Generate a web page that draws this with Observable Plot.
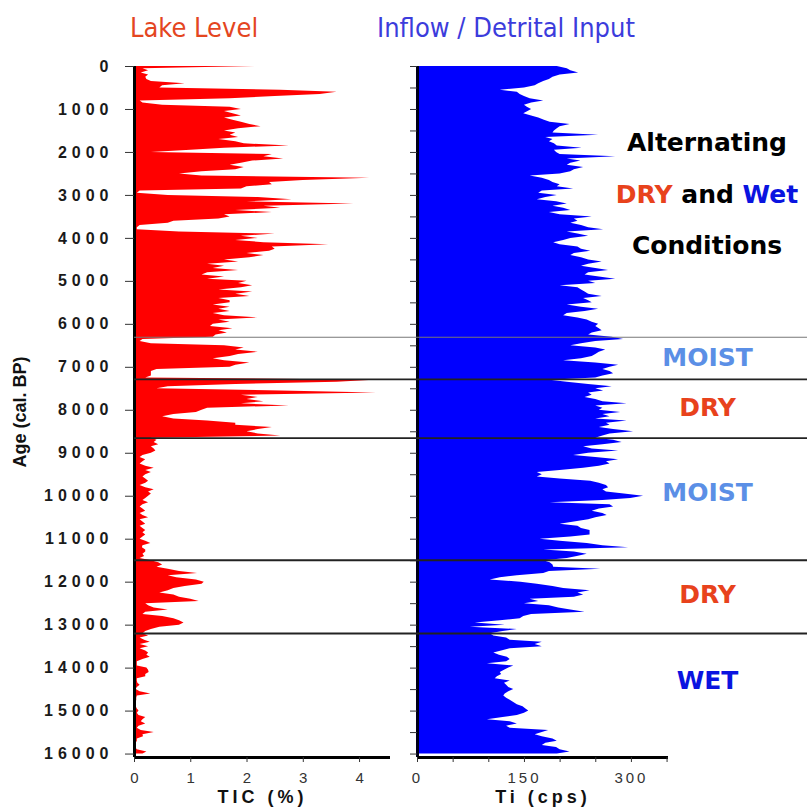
<!DOCTYPE html>
<html>
<head>
<meta charset="utf-8">
<script src="https://cdn.jsdelivr.net/npm/d3@7"></script>
<script src="https://cdn.jsdelivr.net/npm/@observablehq/plot@0.6"></script>
<style>
html, body { margin: 0; padding: 0; background: #fff; }
#wrap { position: relative; width: 807px; height: 807px; overflow: hidden; background: #fff; }
#wrap svg { position: absolute; left: 0; top: 0; background: transparent !important; font-family: "Liberation Sans", Arial, sans-serif; overflow: visible; }
.title { position: absolute; top: 10px; font-family: "DejaVu Sans Condensed", "DejaVu Sans", sans-serif; font-stretch: condensed; font-size: 27px; line-height: 36px; white-space: nowrap; transform: translateX(-50%); }
.note { position: absolute; left: 607px; width: 200px; text-align: center; font-family: "DejaVu Sans", sans-serif; font-weight: bold; font-size: 25px; line-height: 30px; white-space: nowrap; color: #000; }
#left g[aria-label="y-axis tick label"] text { font-weight: bold; font-size: 16px; letter-spacing: 5px; fill: #1a1a1a; }
#left g[aria-label="y-axis label"] text { font-weight: bold; font-size: 18px; fill: #111; }
#left g[aria-label="x-axis tick label"] text, #right g[aria-label="x-axis tick label"] text { font-size: 15px; fill: #333; }
#right g[aria-label="x-axis tick label"] text { letter-spacing: 3px; }
#left g[aria-label="x-axis label"] text, #right g[aria-label="x-axis label"] text { font-weight: bold; font-size: 18px; letter-spacing: 4px; fill: #111; }
g[aria-label="y-axis tick"], g[aria-label="x-axis tick"] { stroke: #333; }
</style>
</head>
<body>
<div id="wrap">
  <div class="title" style="left:194px;color:#e4461f;">Lake Level</div>
  <div class="title" style="left:506px;color:#3c3cdc;">Inflow / Detrital Input</div>
</div>
<script>
// Age axis (cal. BP), one sample every 50 years
const ages = d3.range(0, 16001, 50);

// TIC (%) — Lake Level
const tic = [
  2.15,0.15,0.25,0.12,0.25,0.2,0.22,0.3,0.9,0.5, 0.45,2.6,3.6,3.3,2.5,1.7,0.1,0.15,0.5,1.7,
  1.9,1.6,1.75,1.9,1.6,1.75,1.9,2.05,2.25,1.85, 1.6,1.8,1.7,1.85,1.5,1.8,1.95,2.75,1.6,1.0,
  0.3,2.45,2.3,2.65,2.1,1.9,1.7,1.95,1.8,1.2, 0.8,1.2,4.18,3.0,2.4,2.45,2.0,1.9,0.1,0.05,
  0.6,2.2,2.8,2.0,3.9,2.3,2.6,1.8,2.45,1.6, 1.7,1.5,0.7,0.6,0.1,0.05,0.05,0.8,2.5,1.9,
  2.2,1.8,2.3,3.45,2.45,2.5,2.4,2.0,2.3,2.05, 1.6,1.85,1.3,1.6,1.4,1.85,1.3,1.2,1.6,1.3,
  2.0,1.85,2.1,1.9,1.5,2.1,1.8,2.05,1.5,1.7, 1.7,1.4,1.7,1.5,1.7,1.4,1.6,2.2,1.5,1.7,
  1.4,1.35,1.75,1.5,1.65,1.45,1.4,0.15,0.1,0.3, 1.6,1.95,1.8,2.2,1.85,1.7,1.4,1.6,2.05,1.8,
  1.7,0.4,0.3,0.3,0.3,0.2,4.25,3.6,1.8,0.6, 0.4,2.6,4.3,1.9,2.2,2.0,2.3,1.9,2.75,1.3,
  1.2,1.1,0.7,0.5,0.7,1.3,1.8,1.8,2.45,2.2, 2.0,2.2,2.6,0.3,0.4,0.35,0.43,0.3,0.35,0.38,
  0.3,0.15,0.1,0.2,0.15,0.1,0.2,0.35,0.2,0.3, 0.2,0.15,0.2,0.25,0.2,0.1,0.2,0.35,0.25,0.3,
  0.25,0.2,0.15,0.25,0.15,0.1,0.15,0.2,0.1,0.15, 0.25,0.1,0.15,0.2,0.1,0.15,0.2,0.15,0.2,0.15,
  0.1,0.2,0.29,0.15,0.14,0.2,0.2,0.15,0.18,0.1, 0.3,0.43,0.5,0.4,0.6,0.8,1.12,0.6,0.75,1.1,
  1.24,1.2,0.9,0.7,0.6,0.45,0.7,0.8,1.0,1.15, 0.2,0.25,0.35,0.6,0.2,0.15,0.5,0.7,0.8,0.88,
  0.8,0.45,0.3,0.2,0.15,0.25,0.1,0.18,0.28,0.1, 0.25,0.1,0.2,0.25,0.22,0.28,0.15,0.05,0.05,0.05,
  0.22,0.25,0.26,0.2,0.2,0.05,0.05,0.06,0.1,0.05, 0.03,0.1,0.29,0.05,0.04,0.04,0.03,0.02,0.03,0.05,
  0.08,0.05,0.08,0.2,0.15,0.12,0.2,0.08,0.05,0.12, 0.35,0.15,0.16,0.05,0.05,0.03,0.03,0.02,0.05,0.22,
  0.15
];

// Ti (cps) — Inflow / Detrital Input
const ti = [
  196,210,215,226,200,190,185,177,170,165, 150,116,140,144,150,158,177,160,150,154,
  160,155,149,160,170,178,186,214,200,196, 192,190,254,180,190,185,192,196,231,192,
  195,200,278,210,229,215,210,233,220,215, 200,158,175,185,190,200,196,219,175,170,
  196,180,168,195,210,190,205,215,185,200, 245,220,225,215,230,240,261,210,225,240,
  215,205,191,200,225,230,243,220,215,230, 240,259,240,230,250,268,240,235,255,278,
  240,250,200,225,230,235,240,259,233,240, 245,210,230,254,235,210,205,225,238,245,
  254,250,255,259,245,240,273,289,250,230, 215,250,264,255,250,245,230,205,250,282,
  270,260,270,275,260,250,186,210,240,273, 250,261,240,245,235,250,260,294,250,260,
  255,285,260,270,250,294,265,270,255,275, 303,270,260,250,275,287,260,233,245,282,
  240,219,250,282,265,270,255,233,200,168, 175,168,200,243,255,265,268,260,265,290,
  317,299,260,186,270,275,255,245,260,266, 250,240,220,200,225,230,242,242,242,215,
  172,200,238,260,296,177,220,238,224,210, 177,186,190,191,257,185,177,140,116,102,
  145,168,190,205,242,225,233,220,158,170, 150,185,198,215,235,160,149,144,116,81,
  123,74,140,120,102,107,125,130,175,165, 175,130,118,107,115,126,130,125,98,135,
  128,122,116,118,112,109,130,122,125,128, 135,128,123,121,125,130,135,140,148,152,
  156,150,140,120,98,130,140,125,130,184, 175,165,175,190,196,180,175,195,200,214,
  196
];

// Zone boundaries (cal. BP) and zone labels
const zoneBounds = [6300, 7280, 8650, 11490, 13195];
const zoneLabels = ["MOIST", "DRY", "MOIST", "DRY", "WET"];
const zoneLabelAges = [6790, 7950, 9930, 12300, 14300];
const zoneColors = ["#5b8fe6", "#e8421c", "#5b8fe6", "#e8421c", "#0a14e0"];

// Axis ticks
const ageTicks = d3.range(0, 16001, 1000);
const ageMinorTicks = d3.range(0, 16001, 500);
const ticTicks = [0, 1, 2, 3, 4];
const tiTicks = [0, 50, 100, 150, 200, 250, 300, 350];
const tiTickLabels = [0, 150, 300];

const ageDomain = [0, 16080];
const rows = ages.map((age, i) => ({age, tic: tic[i], ti: ti[i]}));

const common = {width: 807, height: 807, marginTop: 66, marginBottom: 50};

const left = Plot.plot({
  ...common,
  marginLeft: 134, marginRight: 417,
  x: {domain: [0, 4.55]},
  y: {domain: ageDomain, reverse: true},
  marks: [
    Plot.areaX(rows, {y: "age", x: "tic", fill: "#ff0000"}),
    Plot.ruleX([0], {stroke: "#000", strokeWidth: 3}),
    Plot.ruleY([ageDomain[1]], {stroke: "#000", strokeWidth: 3}),
    Plot.axisY({ticks: ageTicks, tickSize: 9, tickPadding: 12, tickFormat: d3.format("d"),
      label: "Age (cal. BP)", labelAnchor: "center", labelOffset: 121, labelArrow: "none"}),
    Plot.axisX({ticks: ticTicks, tickSize: 5, tickPadding: 10, tickFormat: d3.format("d"),
      label: "TIC (%)", labelAnchor: "center", labelOffset: 45, labelArrow: "none"})
  ]
});
left.id = "left";

const right = Plot.plot({
  ...common,
  marginLeft: 417, marginRight: 139,
  x: {domain: [0, 352]},
  y: {domain: ageDomain, reverse: true},
  marks: [
    Plot.areaX(rows, {y: "age", x: "ti", fill: "#0000ff"}),
    Plot.ruleX([0], {stroke: "#00001a", strokeWidth: 3}),
    Plot.ruleY([ageDomain[1]], {stroke: "#000", strokeWidth: 3}),
    Plot.axisY({ticks: ageMinorTicks, tickSize: 7, tickFormat: () => "", label: null}),
    Plot.axisX({ticks: tiTicks, tickSize: 5, tickPadding: 10,
      tickFormat: d => tiTickLabels.includes(d) ? String(d) : "",
      label: "Ti (cps)", labelAnchor: "center", labelOffset: 45, labelArrow: "none"})
  ]
});
right.id = "right";

const overlay = Plot.plot({
  ...common,
  marginLeft: 134, marginRight: 0,
  y: {domain: ageDomain, reverse: true, axis: null},
  color: {type: "identity"},
  marks: [
    Plot.ruleY(zoneBounds.slice(0, 1), {stroke: "#777", strokeWidth: 1.2}),
    Plot.ruleY(zoneBounds.slice(1), {stroke: "#222", strokeWidth: 1.8}),
    Plot.text(zoneLabels, {
      y: (d, i) => zoneLabelAges[i], text: d => d, fill: (d, i) => zoneColors[i],
      frameAnchor: "right", dx: -100, textAnchor: "middle",
      fontSize: 25, fontWeight: "bold", fontFamily: "DejaVu Sans"
    })
  ]
});
overlay.id = "overlay";

const wrap = document.getElementById("wrap");
wrap.appendChild(left);
wrap.appendChild(right);
wrap.appendChild(overlay);

const notes = [
  {top: 128, html: 'Alternating'},
  {top: 180, html: '<span style="color:#e8421c">DRY</span> and <span style="color:#0a14e0">Wet</span>'},
  {top: 231, html: 'Conditions'}
];
for (const n of notes) {
  const div = document.createElement("div");
  div.className = "note";
  div.style.top = n.top + "px";
  div.innerHTML = n.html;
  wrap.appendChild(div);
}
</script>
</body>
</html>
